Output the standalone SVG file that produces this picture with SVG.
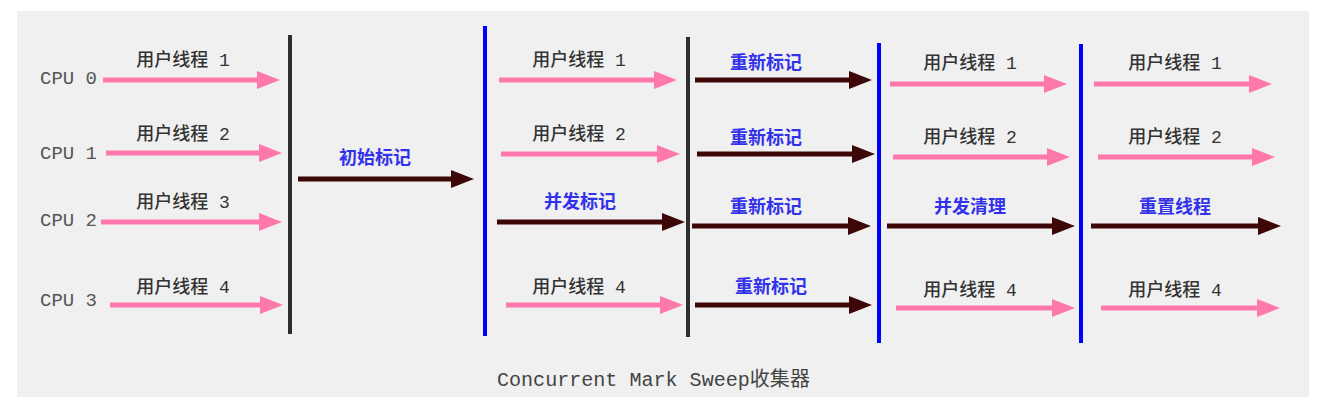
<svg xmlns="http://www.w3.org/2000/svg" width="1328" height="414" viewBox="0 0 1328 414">
<style>
.lbl{font-family:"Liberation Mono","Noto Sans CJK SC",monospace;font-size:18px;font-weight:500;fill:#333;text-anchor:middle}
.cpu{font-family:"Liberation Mono",monospace;font-size:19px;fill:#555}
.gc{font-family:"Noto Sans CJK SC",sans-serif;font-size:18px;font-weight:bold;fill:#3232ea;text-anchor:middle}
.cap{font-family:"Liberation Mono","Noto Sans CJK SC",monospace;font-size:20px;fill:#444}
.pink{stroke:#ff78ab;stroke-width:5;fill:none;marker-end:url(#hp)}
.dark{stroke:#3d0707;stroke-width:5;fill:none;marker-end:url(#hd)}
.vk{stroke:#2d2d2d;stroke-width:4}
.vb{stroke:#0000ff;stroke-width:4}
</style>
<defs>
<marker id="hp" markerUnits="userSpaceOnUse" markerWidth="24" markerHeight="18" refX="2" refY="9" orient="auto"><path d="M0,0 L23,9 L0,18 z" fill="#ff78ab"/></marker>
<marker id="hd" markerUnits="userSpaceOnUse" markerWidth="24" markerHeight="18" refX="2" refY="9" orient="auto"><path d="M0,0 L23,9 L0,18 z" fill="#3d0707"/></marker>
</defs>
<rect x="17" y="11" width="1292" height="386" fill="#f0f0f0"/>
<g id="barriers">
<line class="vk" x1="290" y1="35" x2="290" y2="334"/>
<line class="vb" x1="485" y1="26" x2="485" y2="336"/>
<line class="vk" x1="688" y1="37" x2="688" y2="337"/>
<line class="vb" x1="879" y1="43" x2="879" y2="343"/>
<line class="vb" x1="1081" y1="44" x2="1081" y2="343"/>
</g>
<g id="cpus">
<text class="cpu" x="40" y="84">CPU 0</text>
<text class="cpu" x="40" y="159">CPU 1</text>
<text class="cpu" x="40" y="226">CPU 2</text>
<text class="cpu" x="40" y="306">CPU 3</text>
</g>
<g id="connectors">
<line class="pink" x1="103" y1="80" x2="259" y2="80"/>
<line class="pink" x1="106" y1="153" x2="261" y2="153"/>
<line class="pink" x1="101" y1="222" x2="261" y2="222"/>
<line class="pink" x1="110" y1="305" x2="262" y2="305"/>
<line class="dark" x1="298" y1="179" x2="453" y2="179"/>
<line class="pink" x1="499" y1="80" x2="656" y2="80"/>
<line class="pink" x1="501" y1="154" x2="659" y2="154"/>
<line class="dark" x1="497" y1="222" x2="664" y2="222"/>
<line class="pink" x1="506" y1="305" x2="662" y2="305"/>
<line class="dark" x1="695" y1="80" x2="851" y2="80"/>
<line class="dark" x1="697" y1="154" x2="854" y2="154"/>
<line class="dark" x1="692" y1="226" x2="850" y2="226"/>
<line class="dark" x1="695" y1="305" x2="851" y2="305"/>
<line class="pink" x1="890" y1="84" x2="1046" y2="84"/>
<line class="pink" x1="893" y1="157" x2="1049" y2="157"/>
<line class="dark" x1="887" y1="226" x2="1054" y2="226"/>
<line class="pink" x1="896" y1="308" x2="1054" y2="308"/>
<line class="pink" x1="1094" y1="84" x2="1251" y2="84"/>
<line class="pink" x1="1098" y1="157" x2="1254" y2="157"/>
<line class="dark" x1="1091" y1="226" x2="1260" y2="226"/>
<line class="pink" x1="1101" y1="308" x2="1259" y2="308"/>
</g>
<g id="phase1">
<text class="lbl" x="183" y="66">用户线程 1</text>
<text class="lbl" x="183" y="140">用户线程 2</text>
<text class="lbl" x="183" y="208">用户线程 3</text>
<text class="lbl" x="183" y="293">用户线程 4</text>
</g>
<g id="phase2"><text class="gc" x="375" y="164">初始标记</text></g>
<g id="phase3">
<text class="lbl" x="579" y="66">用户线程 1</text>
<text class="lbl" x="579" y="140">用户线程 2</text>
<text class="gc" x="580" y="208">并发标记</text>
<text class="lbl" x="579" y="293">用户线程 4</text>
</g>
<g id="phase4">
<text class="gc" x="766" y="69">重新标记</text>
<text class="gc" x="766" y="144">重新标记</text>
<text class="gc" x="766" y="213">重新标记</text>
<text class="gc" x="771" y="293">重新标记</text>
</g>
<g id="phase5">
<text class="lbl" x="970" y="69">用户线程 1</text>
<text class="lbl" x="970" y="143">用户线程 2</text>
<text class="gc" x="970" y="213">并发清理</text>
<text class="lbl" x="970" y="296">用户线程 4</text>
</g>
<g id="phase6">
<text class="lbl" x="1175" y="69">用户线程 1</text>
<text class="lbl" x="1175" y="143">用户线程 2</text>
<text class="gc" x="1175" y="213">重置线程</text>
<text class="lbl" x="1175" y="296">用户线程 4</text>
</g>
<g id="caption"><text class="cap" x="497" y="386" textLength="313" lengthAdjust="spacingAndGlyphs">Concurrent Mark Sweep收集器</text></g>
</svg>
